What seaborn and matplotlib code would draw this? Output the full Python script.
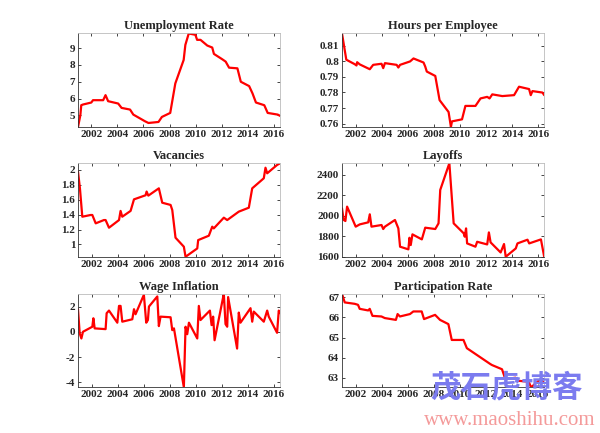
import matplotlib
matplotlib.use('Agg')
import matplotlib.pyplot as plt
import seaborn as sns

# (year, value)
unemp_x = [2000.98, 2001.16, 2001.23, 2001.36, 2002.0, 2002.13, 2002.91, 2003.09, 2003.29, 2004.06,
           2004.32, 2004.97, 2005.22, 2006.12, 2006.38, 2007.15, 2007.41, 2008.05, 2008.44, 2009.08,
           2009.21, 2009.47, 2009.98, 2010.11, 2010.37, 2010.89, 2011.27, 2011.40, 2012.04, 2012.30,
           2012.56, 2013.20, 2013.46, 2014.10, 2014.36, 2014.62, 2015.26, 2015.52, 2016.29, 2016.48]
unemp_y = [4.3, 5.0, 5.6, 5.64, 5.76, 5.9, 5.9, 6.2, 5.84, 5.7,
           5.44, 5.34, 5.04, 4.64, 4.54, 4.6, 4.9, 5.14, 6.9, 8.3,
           9.2, 9.88, 9.8, 9.5, 9.5, 9.16, 9.04, 8.66, 8.34, 8.2,
           7.84, 7.8, 7.0, 6.74, 6.3, 5.76, 5.6, 5.14, 5.04, 4.96]

hours_x = [2000.95, 2001.28, 2001.93, 2002.06, 2002.11, 2002.31, 2003.08, 2003.34, 2003.98, 2004.11,
           2004.24, 2005.14, 2005.27, 2005.40, 2006.17, 2006.43, 2007.20, 2007.33, 2007.45, 2008.10,
           2008.43, 2009.12, 2009.30, 2009.38, 2010.15, 2010.41, 2011.18, 2011.57, 2012.08, 2012.26,
           2012.47, 2013.24, 2014.14, 2014.52, 2015.29, 2015.42, 2015.55, 2016.32, 2016.45]
hours_y = [0.8178, 0.801, 0.7981, 0.7973, 0.7994, 0.798, 0.7949, 0.7977, 0.7984, 0.7956,
           0.7988, 0.7977, 0.796, 0.7977, 0.7999, 0.8018, 0.7992, 0.7966, 0.7934, 0.7906,
           0.7751, 0.7675, 0.7579, 0.7615, 0.7628, 0.7714, 0.7714, 0.7762, 0.7772, 0.7762,
           0.7788, 0.7777, 0.7783, 0.7837, 0.7822, 0.7783, 0.7809, 0.77995, 0.7783]

vac_x = [2000.95, 2001.10, 2001.28, 2001.92, 2002.05, 2002.31, 2002.94, 2003.07, 2003.33, 2004.10,
         2004.22, 2004.35, 2004.99, 2005.25, 2006.14, 2006.22, 2006.35, 2007.16, 2007.42, 2008.06,
         2008.19, 2008.44, 2009.08, 2009.21, 2010.11, 2010.18, 2011.00, 2011.26, 2011.38, 2012.15,
         2012.41, 2013.30, 2014.07, 2014.33, 2015.22, 2015.35, 2015.48, 2016.24, 2016.48]
vac_y = [1.978, 1.75, 1.372, 1.395, 1.395, 1.283, 1.327, 1.327, 1.224, 1.327,
         1.45, 1.372, 1.45, 1.605, 1.66, 1.71, 1.655, 1.753, 1.56, 1.53,
         1.462, 1.09, 0.969, 0.834, 0.946, 1.058, 1.117, 1.238, 1.215, 1.359,
         1.327, 1.44, 1.493, 1.753, 1.888, 2.03, 1.955, 2.067, 2.09]

lay_x = [2000.95, 2001.08, 2001.21, 2001.34, 2002.00, 2002.31, 2002.96, 2003.08, 2003.21, 2003.98,
         2004.11, 2004.24, 2005.01, 2005.27, 2005.40, 2006.04, 2006.12, 2006.22, 2006.35, 2007.07,
         2007.33, 2008.10, 2008.35, 2008.48, 2009.18, 2009.51, 2010.28, 2010.36, 2010.46, 2010.54,
         2011.18, 2011.31, 2012.08, 2012.21, 2012.34, 2013.11, 2013.37, 2013.50, 2014.27, 2014.40,
         2015.17, 2015.30, 2016.20, 2016.45]
lay_y = [2071, 1958, 1948, 2088, 1893, 1915, 1935, 2013, 1893, 1909,
         1870, 1893, 1958, 1876, 1698, 1672, 1785, 1714, 1818, 1769,
         1883, 1870, 1925, 2250, 2510, 1925, 1828, 1795, 1876, 1730,
         1698, 1746, 1720, 1837, 1740, 1642, 1724, 1600, 1681, 1730,
         1766, 1730, 1769, 1600]

wage_x = [2000.95, 2001.08, 2001.21, 2001.33, 2002.05, 2002.13, 2002.23, 2003.07, 2003.15, 2003.33,
          2003.97, 2004.10, 2004.22, 2004.35, 2005.12, 2005.25, 2005.37, 2006.01, 2006.19, 2006.32,
          2006.40, 2007.04, 2007.16, 2007.29, 2008.06, 2008.19, 2008.32, 2009.08, 2009.21, 2009.34,
          2009.47, 2010.11, 2010.23, 2010.36, 2011.08, 2011.21, 2011.33, 2011.44, 2012.15, 2012.28,
          2012.41, 2012.48, 2013.17, 2013.30, 2013.43, 2014.20, 2014.33, 2014.45, 2015.22, 2015.48,
          2015.60, 2016.24, 2016.37, 2016.48]
wage_y = [1.79, -0.13, -0.53, 0.0, 0.4, 1.07, 0.27, 0.21, 1.47, 1.68,
          0.72, 2.05, 2.05, 0.8, 0.99, 1.79, 1.39, 2.93, 0.72, 0.93,
          2.0, 2.8, 0.45, 1.2, 1.15, 0.13, 0.27, -4.4, 0.4, -0.19,
          0.72, -0.53, 2.05, 0.93, 1.68, 0.53, 1.2, -0.67, 3.01, 0.61,
          0.4, 2.75, -1.33, 1.52, 0.72, 1.87, 0.8, 1.6, 0.8, 1.68,
          1.2, -0.08, 1.68, 1.47]

part_x = [2000.95, 2001.16, 2001.93, 2002.18, 2002.31, 2002.96, 2003.08, 2003.29, 2003.98, 2004.24,
          2005.09, 2005.22, 2005.40, 2006.17, 2006.43, 2007.07, 2007.25, 2008.10, 2008.48, 2009.12,
          2009.38, 2010.28, 2010.54, 2012.34, 2012.47, 2013.24, 2013.50, 2014.27, 2014.40, 2015.29,
          2015.47, 2016.19, 2016.48]
part_y = [67.18, 66.75, 66.68, 66.63, 66.43, 66.35, 66.43, 66.08, 66.05, 65.97,
          65.88, 66.17, 66.05, 66.17, 66.3, 66.3, 65.92, 66.13, 65.88, 65.67,
          64.88, 64.88, 64.47, 63.68, 63.63, 63.42, 62.92, 63.0, 62.85, 62.8,
          62.52, 62.92, 62.75]

titles = ['Unemployment Rate', 'Hours per Employee', 'Vacancies',
          'Layoffs', 'Wage Inflation', 'Participation Rate']
series = [(unemp_x, unemp_y), (hours_x, hours_y), (vac_x, vac_y),
          (lay_x, lay_y), (wage_x, wage_y), (part_x, part_y)]
yticks = [[5, 6, 7, 8, 9],
          [0.76, 0.77, 0.78, 0.79, 0.8, 0.81],
          [1, 1.2, 1.4, 1.6, 1.8, 2],
          [1600, 1800, 2000, 2200, 2400],
          [-4, -2, 0, 2],
          [63, 64, 65, 66, 67]]
xticks = list(range(2002, 2017, 2))

sns.set_style('ticks')
plt.rcParams['font.family'] = ['Liberation Serif']
plt.rcParams['font.weight'] = 'bold'

fig = plt.figure(figsize=(6, 4.33), dpi=100)
lefts = [0.13, 0.57]
bottoms = [0.7067, 0.407, 0.1055]

for i, (title, (xs, ys)) in enumerate(zip(titles, series)):
    ax = fig.add_axes([lefts[i % 2], bottoms[i // 2], 0.337, 0.216])
    sns.lineplot(x=xs, y=ys, ax=ax, color='red', linewidth=1.6, estimator=None)
    ax.set_xlim(min(xs), max(xs))
    ax.set_ylim(min(ys), max(ys))
    ax.set_xticks(xticks)
    ax.set_xticklabels([str(t) for t in xticks])
    ax.set_yticks(yticks[i])
    ax.set_yticklabels([f'{t:g}' for t in yticks[i]])
    ax.set_title(title, fontsize=9, fontweight='bold', pad=3)
    ax.tick_params(direction='in', top=True, right=True, length=2.5, width=0.6,
                   labelsize=8, pad=2)
    for side in ['top', 'right']:
        ax.spines[side].set_color('#bbbbbb')
        ax.spines[side].set_linewidth(0.6)
    for side in ['left', 'bottom']:
        ax.spines[side].set_color('#333333')
        ax.spines[side].set_linewidth(0.6)

# watermark
fig.text(0.845, 0.105, '茂石虎博客', fontsize=22, color='#7b7bef', ha='center', va='center',
         fontstyle='italic', fontweight='bold', family=['Noto Sans CJK SC', 'DejaVu Sans'])
fig.text(0.85, 0.028, 'www.maoshihu.com', fontsize=15, color='#f49a9a', ha='center', va='center',
         fontweight='normal', family=['Liberation Serif'])

fig.savefig('out.png', dpi=100)
